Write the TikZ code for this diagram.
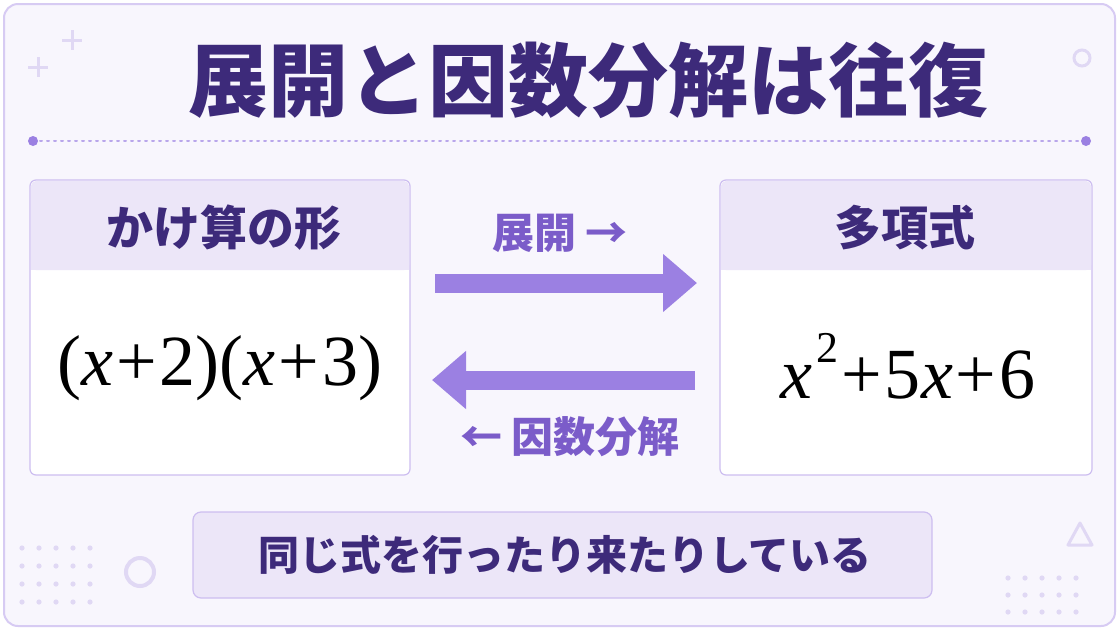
\documentclass[tikz,border=0pt]{standalone}
\usepackage{fontspec}
\setmainfont{Noto Sans CJK JP}
\newfontfamily\mathser{Liberation Serif}
\usetikzlibrary{arrows.meta}
\definecolor{bg}{HTML}{F8F6FD}
\definecolor{bord}{HTML}{CDBEF0}
\definecolor{dark}{HTML}{3D2A7A}
\definecolor{mid}{HTML}{7B5CC9}
\definecolor{arr}{HTML}{9B80E2}
\definecolor{head}{HTML}{ECE6F8}
\definecolor{deco}{HTML}{E0D8F4}
\newcommand{\pl}{\hspace{3pt}+\hspace{3pt}}
\begin{document}
\begin{tikzpicture}[x=1pt,y=-1pt,
  box/.style={draw=bord,line width=1.2pt,fill=white,rounded corners=6pt},
  ttl/.style={text=dark,font=\bfseries\fontsize{47}{52}\selectfont},
  lbl/.style={text=mid,font=\bfseries\fontsize{42}{46}\selectfont},
  big/.style={font=\mathser\fontsize{72}{80}\selectfont},
  fat/.style={-{Triangle[length=34pt,width=56pt]},line width=19pt,draw=arr}]
\useasboundingbox (0,0) rectangle (1119,630);
\fill[white] (0,0) rectangle (1119,630);
\draw[bord!80,fill=bg,line width=2pt,rounded corners=14pt] (4,4) rectangle (1115,626);
% decorations
\draw[deco,line width=3pt] (72,30)--(72,50) (62,40)--(82,40) (38,57)--(38,77) (28,67)--(48,67);
\draw[deco,line width=3pt] (1082,58) circle (8);
\draw[deco,line width=4pt] (140,572) circle (14);
\draw[deco,line width=3pt,line join=round] (1068,545)--(1080,523)--(1092,545)--cycle;
\foreach \i in {0,...,4} \foreach \j in {0,...,3} \fill[deco] (22+\i*17,548+\j*18) circle (2.6);
\foreach \i in {0,...,4} \foreach \j in {0,...,2} \fill[deco] (1008+\i*17,578+\j*17) circle (2.6);
% title
\node[text=dark,font=\bfseries\fontsize{80}{86}\selectfont] (title) at (588,80) {展開と因数分解は往復};
\coordinate (dl) at (33,141); \coordinate (dr) at (1086,141);
\draw[arr!70,line width=2pt,dash pattern=on 2pt off 5pt,line cap=round] (dl)--(dr);
\fill[arr] (dl) circle (5) (dr) circle (5);
% left box
\draw[box] (30,180) rectangle (410,475);
\fill[head,rounded corners=5pt] (31,181) rectangle (409,270);
\fill[head] (31,230) rectangle (409,270);
\node[ttl] (lh) at (224,228) {かけ算の形};
\node[big] (lm) at (220,368) {(\textit{x}\pl2)(\textit{x}\pl3)};
% right box
\draw[box] (720,180) rectangle (1092,475);
\fill[head,rounded corners=5pt] (721,181) rectangle (1091,270);
\fill[head] (721,230) rectangle (1091,270);
\node[ttl] (rh) at (905,228) {多項式};
\node[big] (rm) at (908,366) {\textit{x}\hspace{4pt}\raisebox{0.5em}{\fontsize{44}{50}\selectfont 2}\pl5\textit{x}\pl6};
% arrows
\coordinate (a1) at (435,283); \coordinate (b1) at (697,283);
\coordinate (a2) at (695,380); \coordinate (b2) at (432,380);
\draw[fat] (a1)--(b1);
\draw[fat] (a2)--(b2);
\node[lbl] (l1) at (560,233) {展開 →};
\node[lbl] (l2) at (570,437) {← 因数分解};
% bottom
\draw[draw=bord,line width=1.2pt,fill=head,rounded corners=8pt] (193,512) rectangle (932,598);
\node[text=dark,font=\bfseries\fontsize{41}{46}\selectfont] (bt) at (565,555) {同じ式を行ったり来たりしている};
\end{tikzpicture}
\end{document}
